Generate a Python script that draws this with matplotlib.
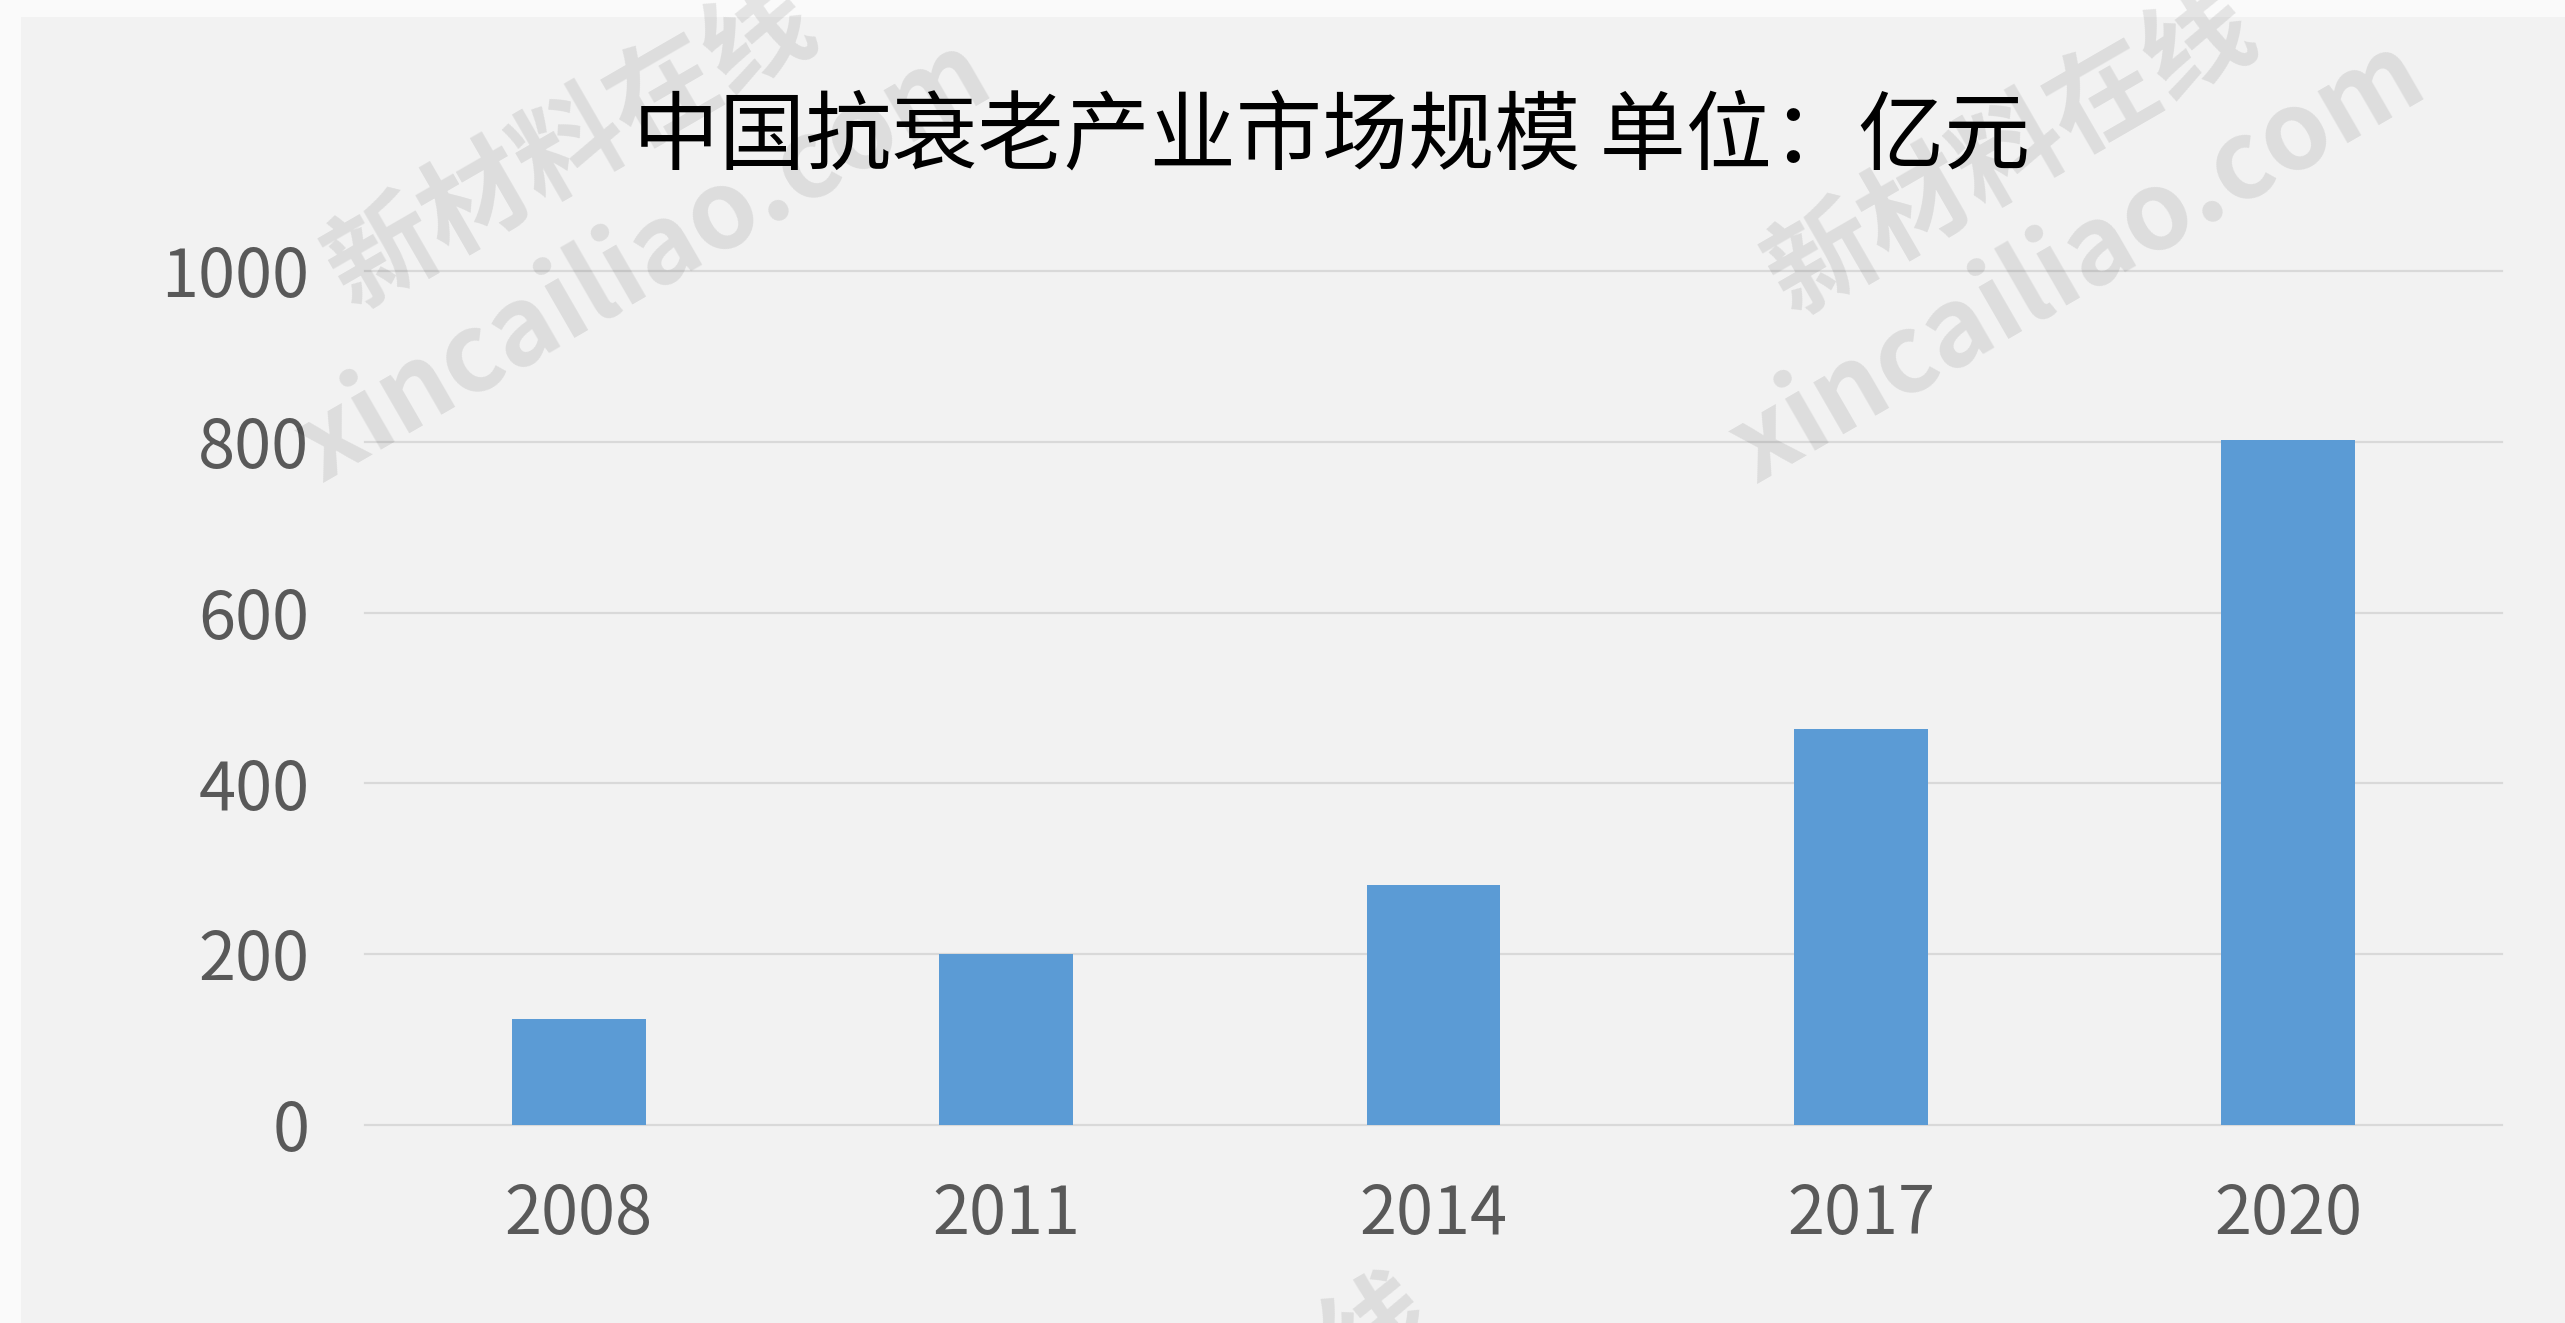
import matplotlib
matplotlib.use("Agg")
import matplotlib.pyplot as plt
from matplotlib.patches import Rectangle

# ---- data ----
years = ["2008", "2011", "2014", "2017", "2020"]
market_size = [124, 200, 281, 464, 802]
y_ticks = [0, 200, 400, 600, 800, 1000]
title_text = "中国抗衰老产业市场规模 单位：亿元"
wm_cn = "新材料在线"
wm_en = "xincailiao.com"

W, H = 2565, 1323
plt.rcParams['font.family'] = ['Noto Sans CJK SC', 'DejaVu Sans']

fig = plt.figure(figsize=(W / 100, H / 100), dpi=100)
fig.patch.set_facecolor('#fafafa')
fig.add_artist(Rectangle((21 / W, 0), 1, 1 - 17 / H, transform=fig.transFigure,
                         facecolor='#f2f2f2', edgecolor='none', zorder=-10))

ax = fig.add_axes([365 / W, 1 - 1125 / H, (2502 - 365) / W, (1125 - 271) / H])
ax.set_facecolor('none')
x = list(range(len(years)))
ax.bar(x, market_size, width=0.3135, color='#5b9bd5', zorder=3)
ax.set_xlim(-0.5, len(years) - 0.5)
ax.set_ylim(0, 1000)
ax.set_yticks(y_ticks)
ax.set_yticklabels([str(v) for v in y_ticks])
ax.set_xticks(x)
ax.set_xticklabels(years)
ax.yaxis.grid(True, color='#d9d9d9', linewidth=1.6)
ax.set_axisbelow(True)
for s in ax.spines.values():
    s.set_visible(False)
ax.tick_params(axis='both', length=0, labelsize=48, labelcolor='#595959')
ax.tick_params(axis='y', pad=40)
ax.tick_params(axis='x', pad=41)
for gl in ax.get_ygridlines():
    gl.set_clip_on(False)

fig.text(1332 / W, 1 - 138 / H, title_text, ha='center', va='center',
         fontsize=62, color='black', weight='light')

# watermarks
wm_kw = dict(ha='center', va='center', rotation=30, rotation_mode='anchor',
             color='black', alpha=0.09, fontsize=78, weight='bold', zorder=5)
for cx, cy in [(571, 148), (2011, 154), (1189, 1443)]:
    fig.text(cx / W, 1 - cy / H, wm_cn, **wm_kw)
for cx, cy in [(644, 261), (2078, 262)]:
    fig.text(cx / W, 1 - cy / H, wm_en, **wm_kw)

fig.savefig("out.png", dpi=100, facecolor=fig.get_facecolor())
